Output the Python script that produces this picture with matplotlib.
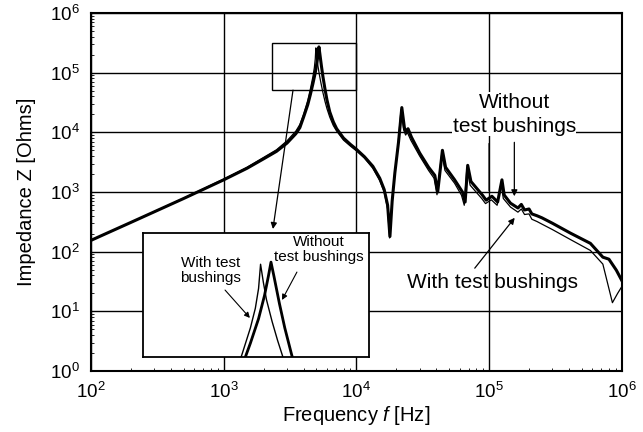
import matplotlib
matplotlib.use("Agg")
import matplotlib.pyplot as plt
from matplotlib.patches import Rectangle

plt.rcParams['font.family'] = ['Liberation Sans', 'DejaVu Sans']
plt.rcParams['mathtext.fontset'] = 'custom'
plt.rcParams['mathtext.rm'] = 'Liberation Sans'
plt.rcParams['mathtext.it'] = 'Liberation Sans:italic'

# impedance without test bushings (thick line)
f_without = [1e2, 2e2, 5e2, 1e3, 1.5e3, 2e3, 2.5e3, 3e3, 3.5e3, 3.75e3, 4.0e3, 4.3e3, 4.5e3,
             4.7e3, 4.9e3, 5.05e3, 5.15e3, 5.22e3, 5.3e3, 5.45e3, 5.6e3, 5.8e3, 6.0e3, 6.3e3,
             6.7e3, 7.1e3, 8.0e3, 9.0e3, 1.0e4, 1.15e4, 1.33e4, 1.5e4, 1.62e4, 1.72e4, 1.79e4,
             1.86e4, 1.95e4, 2.08e4, 2.2e4, 2.3e4, 2.38e4, 2.45e4, 2.6e4, 3.0e4, 3.5e4, 3.9e4,
             4.1e4, 4.45e4, 4.7e4, 5.5e4, 6.3e4, 6.6e4, 6.9e4, 7.3e4, 8.9e4, 9.5e4, 1.05e5,
             1.16e5, 1.25e5, 1.3e5, 1.45e5, 1.65e5, 1.75e5, 1.85e5, 2.0e5, 2.1e5, 2.3e5, 2.5e5,
             3.0e5, 4.1e5, 5.8e5, 7.2e5, 8.0e5, 9.1e5, 1.0e6]
z_without = [155, 310, 780, 1.6e3, 2.5e3, 3.6e3, 4.8e3, 6.6e3, 9.5e3, 1.2e4, 1.8e4, 2.9e4, 4.3e4,
             6.5e4, 1.0e5, 1.5e5, 2.1e5, 2.7e5, 2.1e5, 1.3e5, 8.5e4, 5.3e4, 3.5e4, 2.2e4,
             1.5e4, 1.15e4, 8.0e3, 6.3e3, 5.2e3, 3.9e3, 2.7e3, 1.7e3, 1.1e3, 600, 180,
             700, 2.1e3, 7.0e3, 2.6e4, 1.2e4, 1.0e4, 1.15e4, 8.3e3, 4.5e3, 2.6e3, 1.9e3,
             1.0e3, 5.0e3, 2.6e3, 1.6e3, 1.0e3, 680, 2.8e3, 1.5e3, 890, 730, 850,
             680, 1.6e3, 890, 650, 540, 620, 500, 520, 430, 400, 370,
             300, 205, 138, 81, 75, 49, 33]

# impedance with test bushings (thin line)
f_with = [1e2, 2e2, 5e2, 1e3, 1.5e3, 2e3, 2.5e3, 3e3, 3.5e3, 3.75e3, 4.0e3, 4.3e3, 4.5e3,
          4.7e3, 4.82e3, 4.9e3, 4.95e3, 5.02e3, 5.1e3, 5.25e3, 5.4e3, 5.6e3, 5.8e3, 6.0e3,
          6.3e3, 6.7e3, 7.1e3, 8.0e3, 9.0e3, 1.0e4, 1.15e4, 1.33e4, 1.5e4, 1.62e4, 1.72e4,
          1.78e4, 1.85e4, 1.94e4, 2.06e4, 2.17e4, 2.27e4, 2.35e4, 2.42e4, 2.57e4, 3.0e4,
          3.5e4, 3.85e4, 4.05e4, 4.4e4, 4.65e4, 5.5e4, 6.2e4, 6.5e4, 6.8e4, 7.2e4, 8.8e4,
          9.4e4, 1.04e5, 1.15e5, 1.23e5, 1.28e5, 1.45e5, 1.65e5, 1.75e5, 1.85e5, 2.0e5,
          2.1e5, 2.3e5, 2.5e5, 3.0e5, 4.1e5, 5.8e5, 7.2e5, 8.5e5, 9.3e5, 1.0e6]
z_with = [155, 310, 790, 1.65e3, 2.6e3, 3.8e3, 5.1e3, 7.2e3, 1.05e4, 1.35e4, 2.0e4, 3.4e4, 5.3e4,
          8.5e4, 1.2e5, 1.7e5, 2.6e5, 1.9e5, 1.4e5, 9.5e4, 6.8e4, 4.6e4, 3.3e4, 2.5e4,
          1.8e4, 1.3e4, 1.05e4, 7.4e3, 5.9e3, 4.9e3, 3.7e3, 2.5e3, 1.55e3, 1.0e3, 520,
          170, 620, 1.9e3, 6.3e3, 2.4e4, 1.1e4, 9.0e3, 1.0e4, 7.4e3, 4.0e3,
          2.3e3, 1.7e3, 900, 4.5e3, 2.3e3, 1.4e3, 880, 600, 2.5e3, 1.3e3, 780,
          640, 740, 600, 1.4e3, 780, 560, 460, 520, 420, 430,
          350, 320, 290, 235, 160, 105, 62, 14, 20, 26]

fig = plt.figure(figsize=(6.43, 4.32), dpi=100)
ax = fig.add_axes([0.1415, 0.141, 0.8255, 0.829])

ax.loglog(f_with, z_with, color='black', linewidth=0.9, zorder=3)
ax.loglog(f_without, z_without, color='black', linewidth=2.2, zorder=4)

ax.set_xlim(1e2, 1e6)
ax.set_ylim(1e0, 1e6)
ax.grid(True, which='major', color='black', linewidth=1.0)
ax.tick_params(which='both', direction='in', labelsize=13.5)
ax.tick_params(which='major', length=0, pad=8)
ax.tick_params(which='minor', length=2.5, width=0.6)
for s in ax.spines.values():
    s.set_linewidth(1.5)

ax.set_xlabel('Frequency $\\it{f}$ [Hz]', fontsize=14.5, labelpad=1)
ax.set_ylabel('Impedance Z [Ohms]', fontsize=14.5, labelpad=10)

# zoom box and arrow to inset
ax.add_patch(Rectangle((2.3e3, 5.1e4), 1e4 - 2.3e3, 3.1e5 - 5.1e4,
                       fill=False, edgecolor='black', linewidth=1.0, zorder=5))
ax.annotate('', xy=(2.35e3, 240), xytext=(3.33e3, 5.1e4),
            arrowprops=dict(arrowstyle='-|>', color='black', lw=0.9,
                            mutation_scale=9, shrinkA=0, shrinkB=0), zorder=6)

# labels on main plot
ax.text(1.55e5, 2.0e4, 'Without\ntest bushings', fontsize=15, ha='center', va='center',
        linespacing=1.35, zorder=6,
        bbox=dict(facecolor='white', edgecolor='none', pad=0.3))
ax.annotate('', xy=(1.0e5, 1.05e3), xytext=(1.0e5, 6.5e3),
            arrowprops=dict(arrowstyle='-', color='black', lw=0.9, shrinkA=0, shrinkB=0))
ax.annotate('', xy=(1.55e5, 8.5e2), xytext=(1.55e5, 6.8e3),
            arrowprops=dict(arrowstyle='-|>', color='black', lw=0.9,
                            mutation_scale=9, shrinkA=0, shrinkB=0))
ax.text(1.07e5, 30, 'With test bushings', fontsize=15, ha='center', va='center', zorder=6)
ax.annotate('', xy=(1.56e5, 370), xytext=(7.8e4, 53),
            arrowprops=dict(arrowstyle='-|>', color='black', lw=0.9,
                            mutation_scale=9, shrinkA=0, shrinkB=0))

# inset with zoomed peaks
axin = fig.add_axes([0.2224, 0.1736, 0.3515, 0.287])
axin.loglog(f_with, z_with, color='black', linewidth=1.0)
axin.loglog(f_without, z_without, color='black', linewidth=2.0)
axin.set_xlim(2.72e3, 8.6e3)
axin.set_ylim(5.1e4, 4.5e5)
axin.tick_params(which='both', length=0, labelbottom=False, labelleft=False)
axin.set_facecolor('white')
for s in axin.spines.values():
    s.set_linewidth(1.3)
axin.text(0.30, 0.70, 'With test\nbushings', transform=axin.transAxes, fontsize=11,
          ha='center', va='center', linespacing=1.1)
axin.text(0.78, 0.87, 'Without\ntest bushings', transform=axin.transAxes, fontsize=11,
          ha='center', va='center', linespacing=1.1)
axin.annotate('', xy=(0.473, 0.315), xytext=(0.363, 0.54), xycoords='axes fraction',
              arrowprops=dict(arrowstyle='-|>', color='black', lw=0.8,
                              mutation_scale=8, shrinkA=0, shrinkB=0))
axin.annotate('', xy=(0.615, 0.46), xytext=(0.681, 0.685), xycoords='axes fraction',
              arrowprops=dict(arrowstyle='-|>', color='black', lw=0.8,
                              mutation_scale=8, shrinkA=0, shrinkB=0))

fig.savefig('out.png', dpi=100)
